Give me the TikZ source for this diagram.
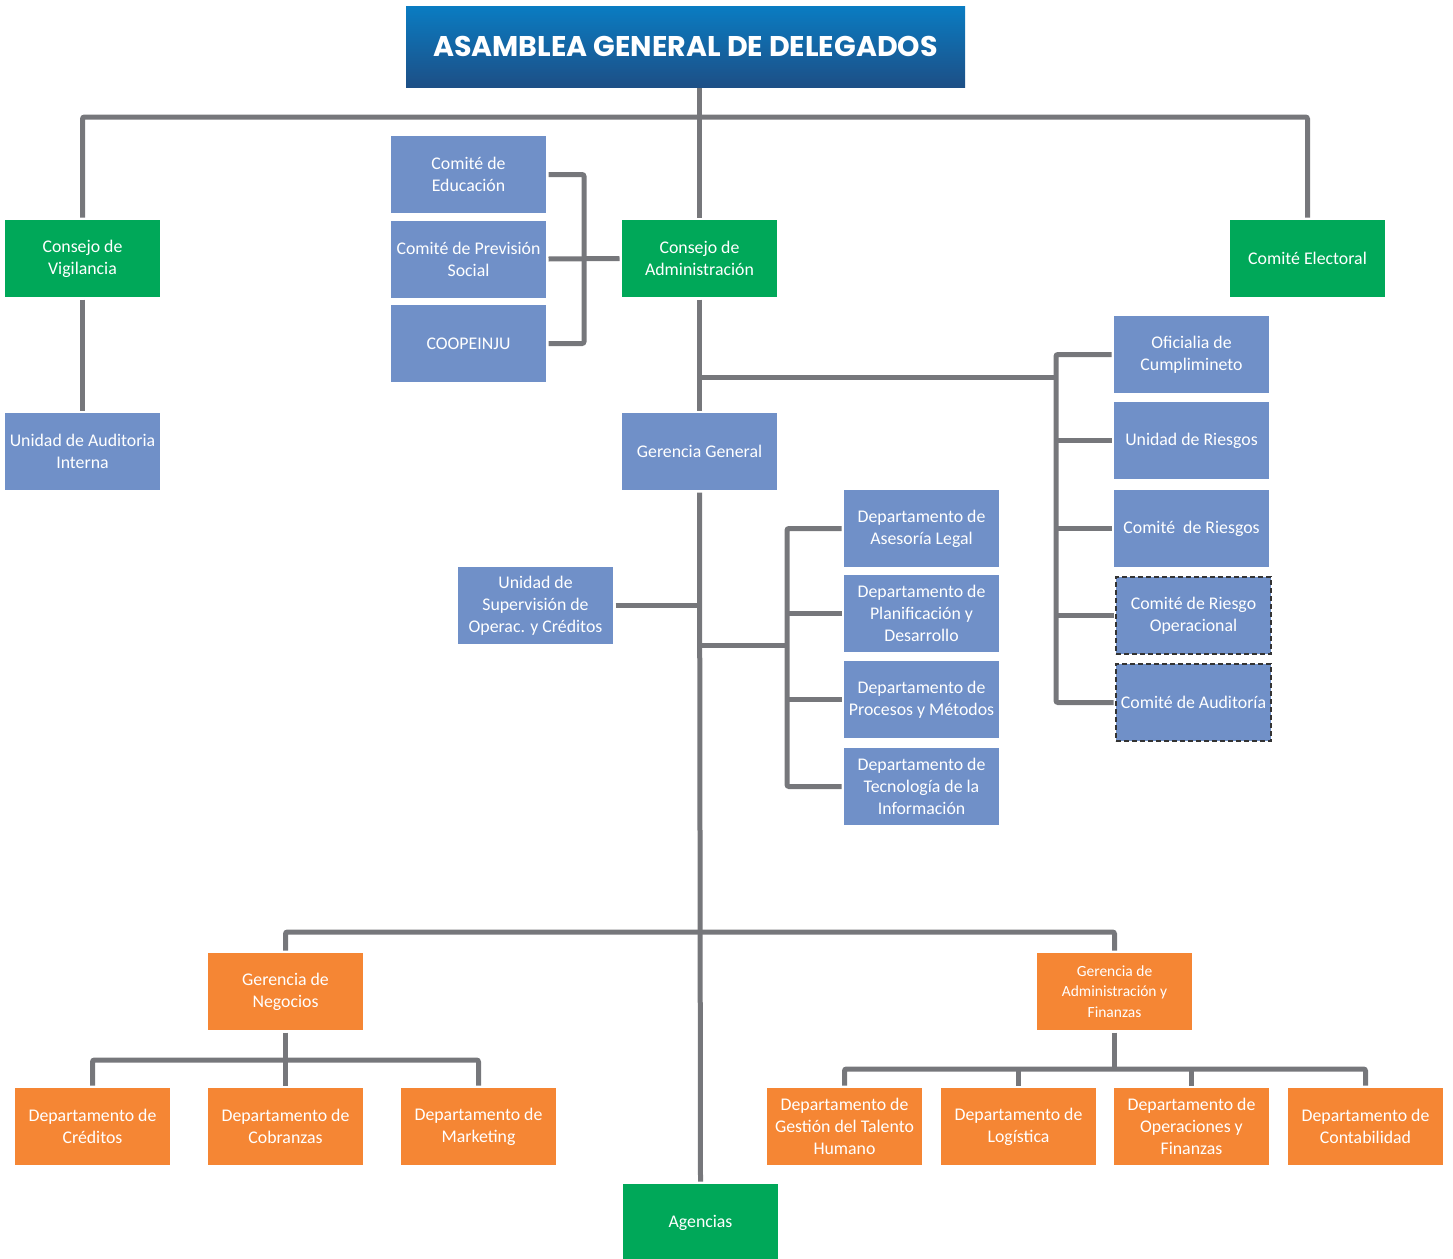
\documentclass[tikz,border=0pt]{standalone}
\usepackage{fontspec}
\setmainfont{Carlito}
\newfontfamily\titlefont{Poppins}
\definecolor{cgreen}{HTML}{00A859}
\definecolor{cblue}{HTML}{7090C8}
\definecolor{corange}{HTML}{F58634}
\definecolor{cline}{HTML}{76777B}
\definecolor{ttop}{HTML}{0A7CC2}
\definecolor{tbot}{HTML}{1D4F86}
\begin{document}
\begin{tikzpicture}[x=1pt,y=-1pt,
  box/.style={minimum width=155pt, minimum height=77pt, inner sep=0pt, outer sep=2.5pt,
    text=white, align=center, font=\fontsize{17.8}{22}\selectfont},
  gbox/.style={box, fill=cgreen},
  bbox/.style={box, fill=cblue},
  dbox/.style={box, fill=cblue, draw=black!80, dashed, line width=1.6pt, dash pattern=on 5pt off 3pt},
  obox/.style={box, fill=corange},
  conn/.style={draw=cline, line width=5pt, rounded corners=2pt}]
\useasboundingbox (0,0) rectangle (1453,1258);
% title
\node[top color=ttop, bottom color=tbot, minimum width=559pt, minimum height=81pt, inner sep=0pt, outer sep=1pt,
  text=white, font=\titlefont\bfseries\fontsize{28.5}{32}\selectfont] (title) at (685.5,46.5) {ASAMBLEA GENERAL DE DELEGADOS};
% nodes
\node[gbox] (vig) at (82.5,258.5) {Consejo de\\Vigilancia};
\node[bbox] (edu) at (468.5,174.5) {Comité de\\Educación};
\node[bbox] (prev) at (468.5,259) {Comité de Previsión\\Social};
\node[bbox] (coop) at (468.5,343.5) {COOPEINJU};
\node[gbox] (cadm) at (699.5,258.5) {Consejo de\\Administración};
\node[gbox] (elec) at (1307.5,258.5) {Comité Electoral};
\node[bbox] (aud) at (82.5,451.5) {Unidad de Auditoria\\Interna};
\node[bbox] (gg) at (699.5,451.5) {Gerencia General};
\node[bbox] (ofi) at (1191.5,354.5) {Oficialia de\\Cumplimineto};
\node[bbox] (uries) at (1191.5,440.5) {Unidad de Riesgos};
\node[bbox] (cries) at (1191.5,528.5) {Comité\ \ de Riesgos};
\node[dbox] (cro) at (1193.5,615.5) {Comité de Riesgo\\Operacional};
\node[dbox] (caud) at (1193.5,702.5) {Comité de Auditoría};
\node[bbox] (sup) at (535.5,605.5) {Unidad de\\Supervisión de\\Operac. y Créditos};
\node[bbox] (leg) at (921.5,528.5) {Departamento de\\Asesoría Legal};
\node[bbox] (pla) at (921.5,613.5) {Departamento de\\Planificación y\\Desarrollo};
\node[bbox] (pro) at (921.5,699.5) {Departamento de\\Procesos y Métodos};
\node[bbox] (tec) at (921.5,786.5) {Departamento de\\Tecnología de la\\Información};
\node[obox] (neg) at (285.5,991.5) {Gerencia de\\Negocios};
\node[obox, font=\fontsize{15.5}{20.5}\selectfont] (adm) at (1114.5,991.5) {Gerencia de\\Administración y\\Finanzas};
\node[obox] (cre) at (92.5,1126.5) {Departamento de\\Créditos};
\node[obox] (cob) at (285.5,1126.5) {Departamento de\\Cobranzas};
\node[obox] (mkt) at (478.5,1126.5) {Departamento de\\Marketing};
\node[obox] (tal) at (844.5,1126.5) {Departamento de\\Gestión del Talento\\Humano};
\node[obox] (log) at (1018.5,1126.5) {Departamento de\\Logística};
\node[obox] (ope) at (1191.5,1126.5) {Departamento de\\Operaciones y\\Finanzas};
\node[obox] (con) at (1365.5,1126.5) {Departamento de\\Contabilidad};
\node[gbox] (ag) at (700.5,1222.5) {Agencias};
% junction coordinates
\coordinate (bus1) at (700,117);
\coordinate (brk) at (584,259);
\coordinate (ra) at (700,377);
\coordinate (rb) at (1056,377);
\coordinate (db) at (787,645);
\coordinate (bus3) at (700,932);
\coordinate (bus4) at (285.5,1060);
\coordinate (bus5) at (1114.5,1069);
% connectors
\draw[conn] (title.south -| cadm.north) -- (cadm.north);
\draw[conn] (vig.north) |- (bus1) -| (elec.north);
\draw[conn] (vig.south) -- (aud.north);
\draw[conn] (edu.east) -| (brk) |- (coop.east);
\draw[conn] (prev.east) -- (cadm.west);
\draw[conn] (cadm.south) -- (gg.north);
\draw[conn] (ra) -- (rb);
\draw[conn] (ofi.west) -| (rb) |- (caud.west);
\draw[conn] (uries.west) -- (uries.west -| rb);
\draw[conn] (cries.west) -- (cries.west -| rb);
\draw[conn] (cro.west) -- (cro.west -| rb);
\draw[conn] (gg.south) -- (ag.north);
\draw[conn] (sup.east) -- (sup.east -| gg.south);
\draw[conn] (gg.south |- db) -- (db);
\draw[conn] (leg.west) -| (db) |- (tec.west);
\draw[conn] (pla.west) -- (pla.west -| db);
\draw[conn] (pro.west) -- (pro.west -| db);
\draw[conn] (neg.north) |- (bus3) -| (adm.north);
\draw[conn] (neg.south) -- (cob.north);
\draw[conn] (cre.north) |- (bus4) -| (mkt.north);
\draw[conn] (adm.south) -- (bus5);
\draw[conn] (tal.north) |- (bus5) -| (con.north);
\draw[conn] (log.north) -- (log.north |- bus5);
\draw[conn] (ope.north) -- (ope.north |- bus5);
\end{tikzpicture}
\end{document}
